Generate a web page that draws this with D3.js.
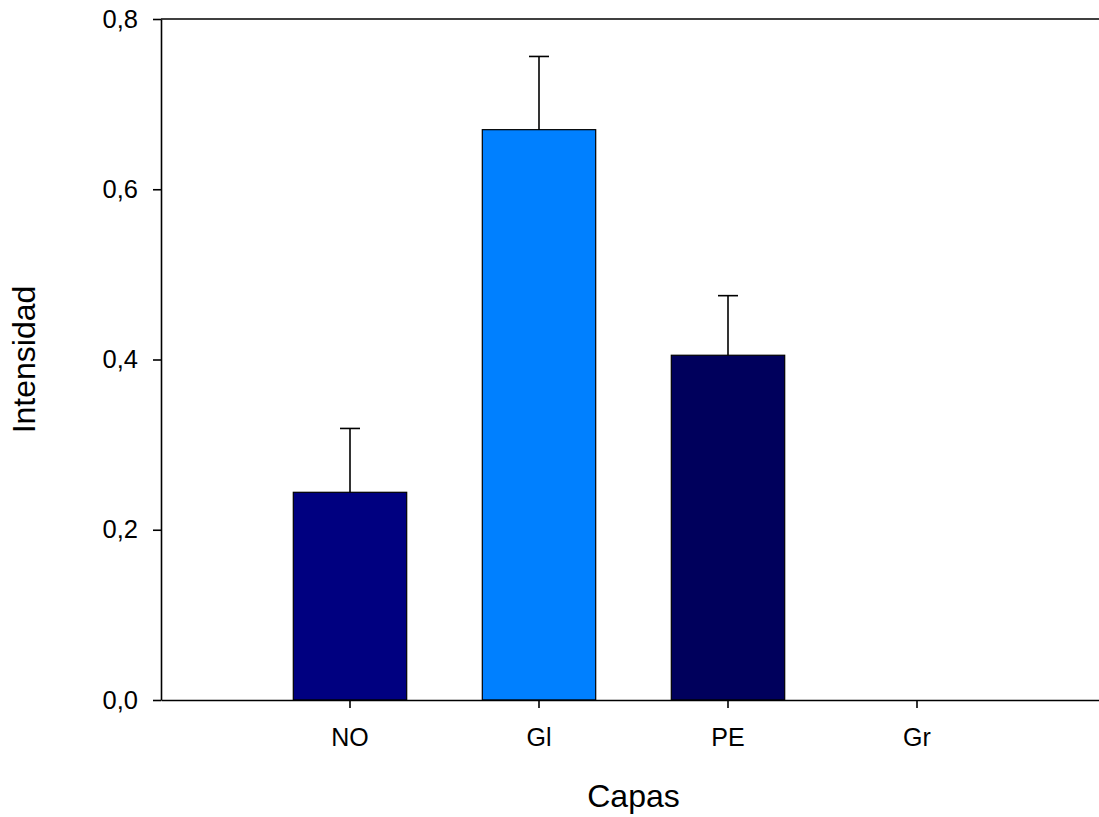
<!DOCTYPE html>
<html><head><meta charset="utf-8">
<script src="https://cdn.jsdelivr.net/npm/d3@7"></script>
<style>body{margin:0;background:#fff}svg{display:block}text{font-family:"Liberation Sans",Arial,sans-serif;fill:#000}</style>
</head><body>
<svg id="c" width="1099" height="817"></svg>
<script>
const categories = ["NO", "Gl", "PE", "Gr"];
const values = [0.244, 0.670, 0.405, 0];
const errors = [0.075, 0.086, 0.070, 0];
const colors = ["#000080", "#0080FF", "#00005C", "#000000"];
const yTicks = [0, 0.2, 0.4, 0.6, 0.8];

const svg = d3.select("#c");
const mLeft = 161, mRight = 1106, mTop = 19, mBottom = 700;
const x = d3.scaleBand().domain(categories).range([mLeft, mRight]).paddingInner(0.4).paddingOuter(0.7);
const y = d3.scaleLinear().domain([0, 0.8]).range([mBottom, mTop]);
const fmt = d => d3.format(".1f")(d).replace(".", ",");

// bars
svg.selectAll("rect.bar").data(categories.filter((c,i)=>values[i]>0)).join("rect")
  .attr("x", c => x(c)).attr("width", x.bandwidth())
  .attr("y", c => y(values[categories.indexOf(c)]))
  .attr("height", c => mBottom - y(values[categories.indexOf(c)]))
  .attr("fill", c => colors[categories.indexOf(c)])
  .attr("stroke", "#000").attr("stroke-width", 1.2);

// error bars
const eb = svg.append("g").attr("stroke", "#000").attr("stroke-width", 1.6);
categories.forEach((c, i) => {
  if (errors[i] <= 0) return;
  const cx = x(c) + x.bandwidth()/2;
  eb.append("line").attr("x1", cx).attr("x2", cx).attr("y1", y(values[i])).attr("y2", y(values[i]+errors[i]));
  eb.append("line").attr("x1", cx-10).attr("x2", cx+10).attr("y1", y(values[i]+errors[i])).attr("y2", y(values[i]+errors[i]));
});

// y axis
const ya = svg.append("g").attr("transform", `translate(${mLeft},0)`)
  .call(d3.axisLeft(y).tickValues(yTicks).tickFormat(fmt).tickSize(8).tickPadding(15).tickSizeOuter(0));
ya.select(".domain").attr("stroke-width", 1.6);
ya.selectAll(".tick line").attr("stroke-width", 1.6);
ya.selectAll("text").style("font-size", "25.5px").style("font-family", '"Liberation Sans",Arial,sans-serif');

// x axis
const xa = svg.append("g").attr("transform", `translate(0,${mBottom})`)
  .call(d3.axisBottom(x).tickSize(8).tickPadding(20).tickSizeOuter(0));
xa.select(".domain").attr("stroke-width", 1.6);
xa.selectAll(".tick line").attr("stroke-width", 1.6);
xa.selectAll("text").style("font-size", "25px").style("font-family", '"Liberation Sans",Arial,sans-serif');

// top border
svg.append("line").attr("x1", mLeft).attr("x2", mRight).attr("y1", mTop).attr("y2", mTop)
  .attr("stroke", "#000").attr("stroke-width", 1.6);

// axis titles
svg.append("text").attr("x", (mLeft + mRight)/2).attr("y", 807).attr("text-anchor", "middle")
  .style("font-size", "32px").text("Capas");
svg.append("text").attr("transform", `translate(35,${(mTop+mBottom)/2}) rotate(-90)`)
  .attr("text-anchor", "middle").style("font-size", "32px").text("Intensidad");
</script>
</body></html>
